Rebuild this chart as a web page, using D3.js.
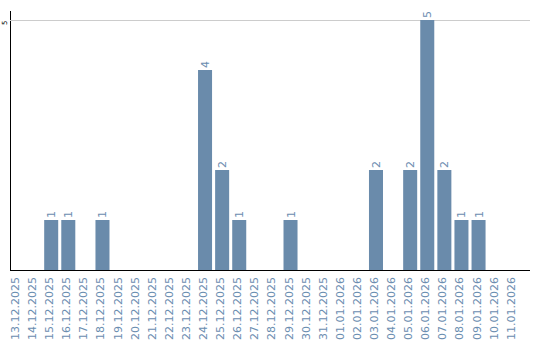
<!DOCTYPE html>
<html>
<head>
<meta charset="utf-8">
<script src="https://cdn.jsdelivr.net/npm/d3@7"></script>
<style>
  body { margin: 0; background: #fff; }
  svg { display: block; }
</style>
</head>
<body>
<div class="chart"></div>
<script>
// daily counts, 13.12.2025 - 11.01.2026
var days = ["13.12.2025", "14.12.2025", "15.12.2025", "16.12.2025", "17.12.2025", "18.12.2025",
  "19.12.2025", "20.12.2025", "21.12.2025", "22.12.2025", "23.12.2025", "24.12.2025",
  "25.12.2025", "26.12.2025", "27.12.2025", "28.12.2025", "29.12.2025", "30.12.2025",
  "31.12.2025", "01.01.2026", "02.01.2026", "03.01.2026", "04.01.2026", "05.01.2026",
  "06.01.2026", "07.01.2026", "08.01.2026", "09.01.2026", "10.01.2026", "11.01.2026"];
var counts = [0, 0, 1, 1, 0, 1, 0, 0, 0, 0, 0, 4, 2, 1, 0, 0, 1, 0, 0, 0, 0, 2, 0, 2, 5, 2, 1, 1, 0, 0];
var yTicks = [5];

var width = 540,
  height = 340,
  margin = {top: 10, right: 10, bottom: 70, left: 10},
  barColor = "#6a8bab",
  textColor = "#6b8db0";

var data = days.map((d, i) => ({day: d, count: counts[i]}));

var svg = d3.select(".chart")
  .append("svg")
  .attr("width", width)
  .attr("height", height);

var xScale = d3.scaleBand()
  .domain(days)
  .range([margin.left, width - margin.right])
  .paddingInner(0.18)
  .paddingOuter(0.3)
  .align(0);

var yScale = d3.scaleLinear()
  .domain([0, 5.2])
  .range([height - margin.bottom, margin.top]);

// grid + y axis
var yAxis = svg.append("g")
  .attr("transform", `translate(${margin.left},0)`)
  .call(d3.axisLeft(yScale)
    .tickValues(yTicks)
    .tickFormat(d3.format("d"))
    .tickSize(-(width - margin.left - margin.right))
    .tickSizeOuter(0));
yAxis.select(".domain").attr("stroke", "#000").attr("shape-rendering", "crispEdges");
yAxis.selectAll(".tick line").attr("stroke", "#ccc").attr("shape-rendering", "crispEdges");
yAxis.selectAll(".tick text")
  .attr("font-family", "DejaVu Sans")
  .attr("font-size", "7px")
  .attr("fill", "#000")
  .attr("text-anchor", "end")
  .attr("x", null)
  .attr("dy", null)
  .attr("transform", "translate(-3,0) rotate(-90)");

// bars
svg.selectAll(".bar")
  .data(data.filter(d => d.count > 0))
  .enter().append("rect")
  .attr("class", "bar")
  .attr("x", d => xScale(d.day))
  .attr("y", d => yScale(d.count))
  .attr("width", xScale.bandwidth())
  .attr("height", d => yScale(0) - yScale(d.count))
  .style("fill", barColor);

// value labels
svg.selectAll(".value")
  .data(data.filter(d => d.count > 0))
  .enter().append("text")
  .attr("class", "value")
  .attr("font-family", "DejaVu Sans")
  .attr("font-size", "11px")
  .attr("fill", textColor)
  .attr("transform", d => `translate(${xScale(d.day) + xScale.bandwidth() / 2 + 4},${yScale(d.count) - 2}) rotate(-90)`)
  .text(d => d.count);

// x axis
var xAxis = svg.append("g")
  .attr("transform", `translate(0,${height - margin.bottom})`)
  .call(d3.axisBottom(xScale).tickSize(0).tickSizeOuter(0));
xAxis.select(".domain")
  .attr("stroke", "#000")
  .attr("shape-rendering", "crispEdges")
  .attr("d", `M${margin.left},0.5H${width - margin.right}`);
xAxis.selectAll(".tick text")
  .attr("font-family", "DejaVu Sans")
  .attr("font-size", "11px")
  .attr("fill", textColor)
  .attr("text-anchor", "end")
  .attr("y", null)
  .attr("dy", null)
  .attr("transform", "translate(2,7) rotate(-90)");
</script>
</body>
</html>
